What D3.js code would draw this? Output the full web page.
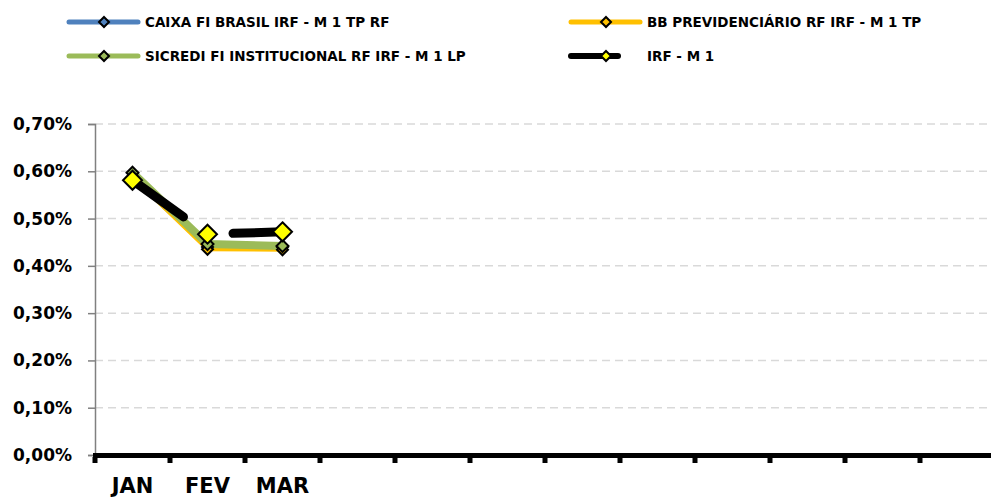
<!DOCTYPE html>
<html lang="pt">
<head>
<meta charset="UTF-8">
<title>Rentabilidade IRF - M 1</title>
<script src="https://d3js.org/d3.v7.min.js"></script>
<style>
    body { margin: 0; background: #fff; }
    svg { display: block; font-family: "DejaVu Sans", sans-serif; font-weight: bold; }
</style>
</head>
<body>
<div id="chart"></div>
<script>
    // data
    const months = ["JAN", "FEV", "MAR", "ABR", "MAI", "JUN", "JUL", "AGO", "SET", "OUT", "NOV", "DEZ"];
    const shownLabels = ["JAN", "FEV", "MAR"];
    const yTicks = [0, 0.001, 0.002, 0.003, 0.004, 0.005, 0.006, 0.007];

    const caixa   = [0.00585, 0.00440, 0.00440];
    const bb      = [0.00588, 0.00435, 0.00434];
    const sicredi = [0.00597, 0.00446, 0.00442];
    const irfm1   = [0.00581, 0.00467, 0.00472];

    const series = [
        { name: "CAIXA FI BRASIL IRF - M 1 TP RF", values: caixa, color: "#4f81bd", width: 4, marker: 9, mfill: "#4f81bd" },
        { name: "BB PREVIDENCIÁRIO RF IRF - M 1 TP", values: bb, color: "#ffc000", width: 4, marker: 9, mfill: "#ffc000" },
        { name: "SICREDI FI INSTITUCIONAL RF IRF - M 1 LP", values: sicredi, color: "#9bbb59", width: 8, marker: 10, mfill: "#9bbb59" },
        { name: "IRF - M 1", values: irfm1, color: "#000000", width: 8, marker: 17, mfill: "#ffff00" }
    ];

    const width = 991, height = 500;
    const margin = { left: 95, right: -4, top: 124, bottom: 45 };

    const svg = d3.select("#chart").append("svg")
        .attr("width", width)
        .attr("height", height);

    const x = d3.scaleBand()
        .domain(months)
        .range([margin.left, width - margin.right]);

    const y = d3.scaleLinear()
        .domain([0, 0.007])
        .range([height - margin.bottom, margin.top]);

    const fmt = v => d3.format(".2f")(v * 100).replace(".", ",") + "%";

    // gridlines
    svg.append("g")
        .selectAll("line")
        .data(yTicks.slice(1))
        .join("line")
        .attr("x1", margin.left)
        .attr("x2", width)
        .attr("y1", d => y(d))
        .attr("y2", d => y(d))
        .attr("stroke", "#d9d9d9")
        .attr("stroke-width", 1.5)
        .attr("stroke-dasharray", "8,5");

    // y axis
    const yAxis = svg.append("g")
        .attr("transform", `translate(${margin.left},0)`)
        .call(d3.axisLeft(y).tickValues(yTicks).tickFormat(fmt).tickSize(7).tickPadding(16));
    yAxis.select(".domain").attr("stroke", "#808080").attr("stroke-width", 1.5);
    yAxis.selectAll(".tick line").attr("stroke", "#808080").attr("stroke-width", 1.5);
    yAxis.selectAll("text")
        .attr("fill", "#000")
        .style("font-size", "17px")
        .style("font-weight", "bold")
        .style("font-family", "'DejaVu Sans', sans-serif");

    // x axis (thick black)
    const x0 = y(0);
    svg.append("line")
        .attr("x1", margin.left - 2)
        .attr("x2", width)
        .attr("y1", x0 + 0.5)
        .attr("y2", x0 + 0.5)
        .attr("stroke", "#000")
        .attr("stroke-width", 5);

    const tickPos = months.map(m => x(m)).concat([x.range()[1]]);
    svg.append("g")
        .selectAll("rect")
        .data(tickPos)
        .join("rect")
        .attr("x", d => d - 2.5)
        .attr("y", x0 + 2)
        .attr("width", 5)
        .attr("height", 6)
        .attr("fill", "#000");

    svg.append("g")
        .selectAll("text")
        .data(shownLabels)
        .join("text")
        .attr("x", d => x(d) + x.bandwidth() / 2)
        .attr("y", 493)
        .attr("text-anchor", "middle")
        .style("font-size", "21px")
        .text(d => d);

    const px = i => x(months[i]) + x.bandwidth() / 2;
    const line = d3.line().x((d, i) => px(i)).y(d => y(d));

    // series lines
    series.slice(0, 3).forEach(s => {
        svg.append("path")
            .attr("d", line(s.values))
            .attr("fill", "none")
            .attr("stroke", s.color)
            .attr("stroke-width", s.width)
            .attr("stroke-linejoin", "round");
    });

    // IRF - M 1 line: drawn in broken pieces like the original
    const trims = [[0, 0.68], [0.34, 1]];
    for (let i = 0; i < irfm1.length - 1; i++) {
        const ax = px(i), ay = y(irfm1[i]), bx = px(i + 1), by = y(irfm1[i + 1]);
        const [t0, t1] = trims[i];
        svg.append("line")
            .attr("x1", ax + (bx - ax) * t0)
            .attr("y1", ay + (by - ay) * t0)
            .attr("x2", ax + (bx - ax) * t1)
            .attr("y2", ay + (by - ay) * t1)
            .attr("stroke", "#000")
            .attr("stroke-width", 9)
            .attr("stroke-linecap", "round");
    }

    // markers
    const diamond = r => `M0,${-r}L${r},0L0,${r}L${-r},0Z`;
    series.forEach(s => {
        svg.append("g")
            .selectAll("path")
            .data(s.values)
            .join("path")
            .attr("transform", (d, i) => `translate(${px(i)},${y(d)})`)
            .attr("d", diamond(s.marker / 2 + 1))
            .attr("fill", s.mfill)
            .attr("stroke", "#000")
            .attr("stroke-width", 2);
    });

    // legend
    const legendPos = [[67, 22], [569, 22], [67, 56], [569, 56]];
    series.forEach((s, i) => {
        const [lx, ly] = legendPos[i];
        const g = svg.append("g").attr("transform", `translate(${lx},${ly})`);
        const len = i === 3 ? 51 : 73;
        g.append("line")
            .attr("x1", 2).attr("x2", len - 2)
            .attr("stroke", s.color)
            .attr("stroke-width", i === 3 ? 6 : 5)
            .attr("stroke-linecap", "round");
        g.append("path")
            .attr("transform", "translate(37,0)")
            .attr("d", diamond(5))
            .attr("fill", i === 3 ? "#ffff00" : s.color)
            .attr("stroke", "#000")
            .attr("stroke-width", 2);
        g.append("text")
            .attr("x", 78)
            .attr("y", 5)
            .style("font-size", "13.5px")
            .text(s.name);
    });
</script>
</body>
</html>
